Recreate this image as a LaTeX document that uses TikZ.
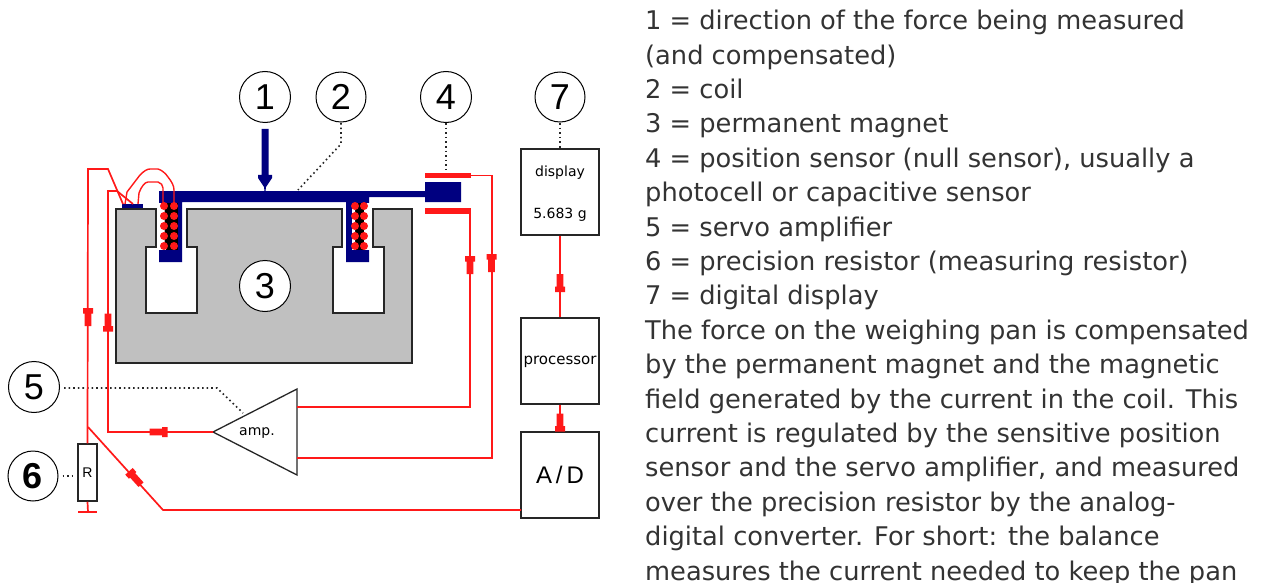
\documentclass[tikz,border=0pt]{standalone}
\usepackage{fontspec}
\setmainfont{DejaVu Sans}
\newfontfamily\digitfont{Liberation Sans}
\definecolor{beam}{RGB}{0,0,128}
\definecolor{magnet}{RGB}{192,192,192}
\definecolor{wire}{RGB}{255,25,25}
\definecolor{bodytext}{RGB}{51,51,51}
\tikzset{
  callout/.style={circle,draw=black,line width=1pt,fill=white,minimum size=51pt,inner sep=0pt,font=\digitfont\fontsize{36}{36}\selectfont},
  unitbox/.style={draw=black!85,line width=1.5pt,fill=white,minimum width=78pt,minimum height=86pt,inner sep=0pt},
  wireline/.style={draw=wire,line width=1.7pt},
  dotline/.style={draw=black!85,line width=1.6pt,dash pattern=on 1.6pt off 3pt},
  smalllabel/.style={font=\fontsize{14}{16}\selectfont,inner sep=0pt},
  wirehead/.pic={\fill[wire] (-9,-5) -- (-3.5,-5) -- (-3.5,-3.4) -- (9,-3.4) -- (9,3.4) -- (-3.5,3.4) -- (-3.5,5) -- (-9,5) -- cycle;},
}
\begin{document}
\begin{tikzpicture}[x=1pt,y=-1pt]
\useasboundingbox[fill=white] (0,0) rectangle (1264,583);
% magnet
\draw[fill=magnet,draw=black!85,line width=1.5pt]
  (116,209) -- (156,209) -- (156,247) -- (146,247) -- (146,313) -- (197,313) -- (197,247) -- (187,247) -- (187,209)
  -- (342,209) -- (342,247) -- (333,247) -- (333,313) -- (384,313) -- (384,247) -- (373,247) -- (373,209)
  -- (412,209) -- (412,363) -- (116,363) -- cycle;
% beam and stems
\fill[beam] (159,191) -- (425,191) -- (425,182) -- (461,182) -- (461,202) -- (425,202) -- (425,197) -- (369,197) -- (369,262) -- (346,262) -- (346,202) -- (182,202) -- (182,262) -- (159,262) -- cycle;
\fill[beam] (122,204) rectangle (143,208);
% coils
\fill[white] (158,203) rectangle (178,250);
\fill[white] (352,203) rectangle (370,250);
\fill[black] (166,203) rectangle (178,250);
\fill[black] (356,203) rectangle (364,250);
\foreach \yy in {211,221,231,241}{
  \fill[black] (169,\yy) circle (4.5) (359.5,\yy) circle (4.5);
}
\foreach \yy in {206,216,226,236,246}{
  \fill[wire] (164,\yy) circle (4) (174,\yy) circle (4) (355,\yy) circle (4) (364,\yy) circle (4);
}
% sensor plates
\fill[wire] (425,173) rectangle (471,178);
\fill[wire] (425,208) rectangle (471,214);
% nodes
\node[callout] (c1) at (265,97) {1};
\node[callout,minimum size=50pt] (c2) at (341,97) {2};
\node[callout] (c3) at (265,286) {3};
\node[callout] (c4) at (446,97) {4};
\node[callout] (c5) at (34,387) {5};
\node[callout,minimum size=50pt] (c6) at (33,476) {\textbf{6}};
\node[callout,minimum size=50pt] (c7) at (560,97) {7};
\node[unitbox] (display) at (560,192) {};
\node[smalllabel] (displabel) at (560,173) {display};
\node[smalllabel] (displayval) at (560,215) {5.683 g};
\node[unitbox] (proc) at (560,361) {};
\node[smalllabel,font=\fontsize{15}{16}\selectfont] (proclabel) at (560,362) {processor};
\node[unitbox,font=\digitfont\fontsize{24}{26}\selectfont] (ad) at (560,475) {A\,/\,D};
\node[draw=black!85,line width=1.5pt,fill=white,minimum width=19pt,minimum height=57pt,inner sep=0pt,font=\digitfont\fontsize{14}{14}\selectfont] (res) at (87.5,472.5) {R};
\coordinate (amptip) at (213,432);
\coordinate (amptop) at (297,389);
\coordinate (ampbot) at (297,475);
\draw[fill=white,draw=black!85,line width=1.3pt] (amptip) -- (amptop) -- (ampbot) -- cycle;
\node[smalllabel] (amplabel) at (257,433) {amp.};
% named wire points
\coordinate (s4top) at (471,175.5);
\coordinate (s4bot) at (470,211);
\coordinate (ampin1) at (297,407);
\coordinate (ampin2) at (297,458);
\coordinate (tap) at (88,427);
\coordinate (adw) at (521,510);
\coordinate (gnd) at (88,512);
\coordinate (padA) at (123,204);
\coordinate (padB) at (133,204);
\coordinate (padC) at (125,204);
\coordinate (padD) at (138,204);
\coordinate (coilA) at (174,203);
\coordinate (coilB) at (163,203);
\coordinate (beampt) at (298,190);
\coordinate (sensorpt) at (446,170);
\coordinate (ampdot) at (243,413);
\coordinate (resdot) at (73,476);
% force arrow
\fill[beam] (261.5,129) -- (268.5,129) -- (268.5,175) -- (272,175) -- (272,178) -- (266,187) -- (265.5,191) -- (264.5,191) -- (264,187) -- (258,178) -- (258,175) -- (261.5,175) -- cycle;
% dotted leaders
\draw[dotline] (c2) ++(0,26) -- (341,144) -- (beampt);
\draw[dotline] (c4) ++(0,26) -- (sensorpt);
\draw[dotline] (c7) ++(0,26) -- (display.north);
\draw[dotline] (c5.east) ++(4,1) -- (217,388) -- (ampdot);
\draw[dotline] (c6.east) ++(4,0) -- (resdot);
% wires
\draw[wireline] (s4top) -- (492,175.5) -- (492,458) -- (ampin2);
\draw[wireline] (s4bot) -- (470,407) -- (ampin1);
\draw[wireline] (display) -- (proc);
\draw[wireline] (proc) -- (ad);
\draw[wireline] (adw) -- (163,510) -- (tap);
\draw[wireline] (res.north) -- (88,169) -- (108,169) -- (padA);
\draw[wireline] (amptip) -- (108,432) -- (108,191) -- (117,191) -- (padB);
\draw[wireline,line width=1.4pt] (padC) -- (127,192) -- (140,175) .. controls (144,171) and (147,169) .. (150,169) -- (158,169) .. controls (162,170) and (166,174) .. (168,177) .. controls (172,182) and (174,186) .. (174,190) -- (coilA);
\draw[wireline,line width=1.4pt] (padD) -- (139,193) .. controls (141,187) and (145,182) .. (148,182) -- (158,182) .. controls (161,183) and (163,185) .. (163,188) -- (coilB);
\draw[wireline] (res.south) -- (gnd);
\draw[wireline] (78,512) -- (97,512);
% arrowheads
\pic[rotate=-90] at (88,317) {wirehead};
\pic[rotate=90] at (108,322.5) {wirehead};
\pic[rotate=-90] at (470,265) {wirehead};
\pic[rotate=-90] at (491.5,263) {wirehead};
\pic[rotate=90] at (560,283) {wirehead};
\pic[rotate=90] at (560,422.5) {wirehead};
\pic[rotate=180] at (158.5,432) {wirehead};
\pic[rotate=-48] at (135,478) {wirehead};
% text
\node[anchor=north west,inner sep=0pt,align=left,text=bodytext,font=\fontsize{25.7}{34.4}\selectfont] (body) at (645,10) {1 = direction of the force being measured\\
(and compensated)\\
2 = coil\\
3 = permanent magnet\\
4 = position sensor (null sensor), usually a\\
photocell or capacitive sensor\\
5 = servo amplifier\\
6 = precision resistor (measuring resistor)\\
7 = digital display\\
The force on the weighing pan is compensated\\
by the permanent magnet and the magnetic\\
field generated by the current in the coil. This\\
current is regulated by the sensitive position\\
sensor and the servo amplifier, and measured\\
over the precision resistor by the analog-\\
digital converter. For short: the balance\\
measures the current needed to keep the pan};
\end{tikzpicture}
\end{document}
